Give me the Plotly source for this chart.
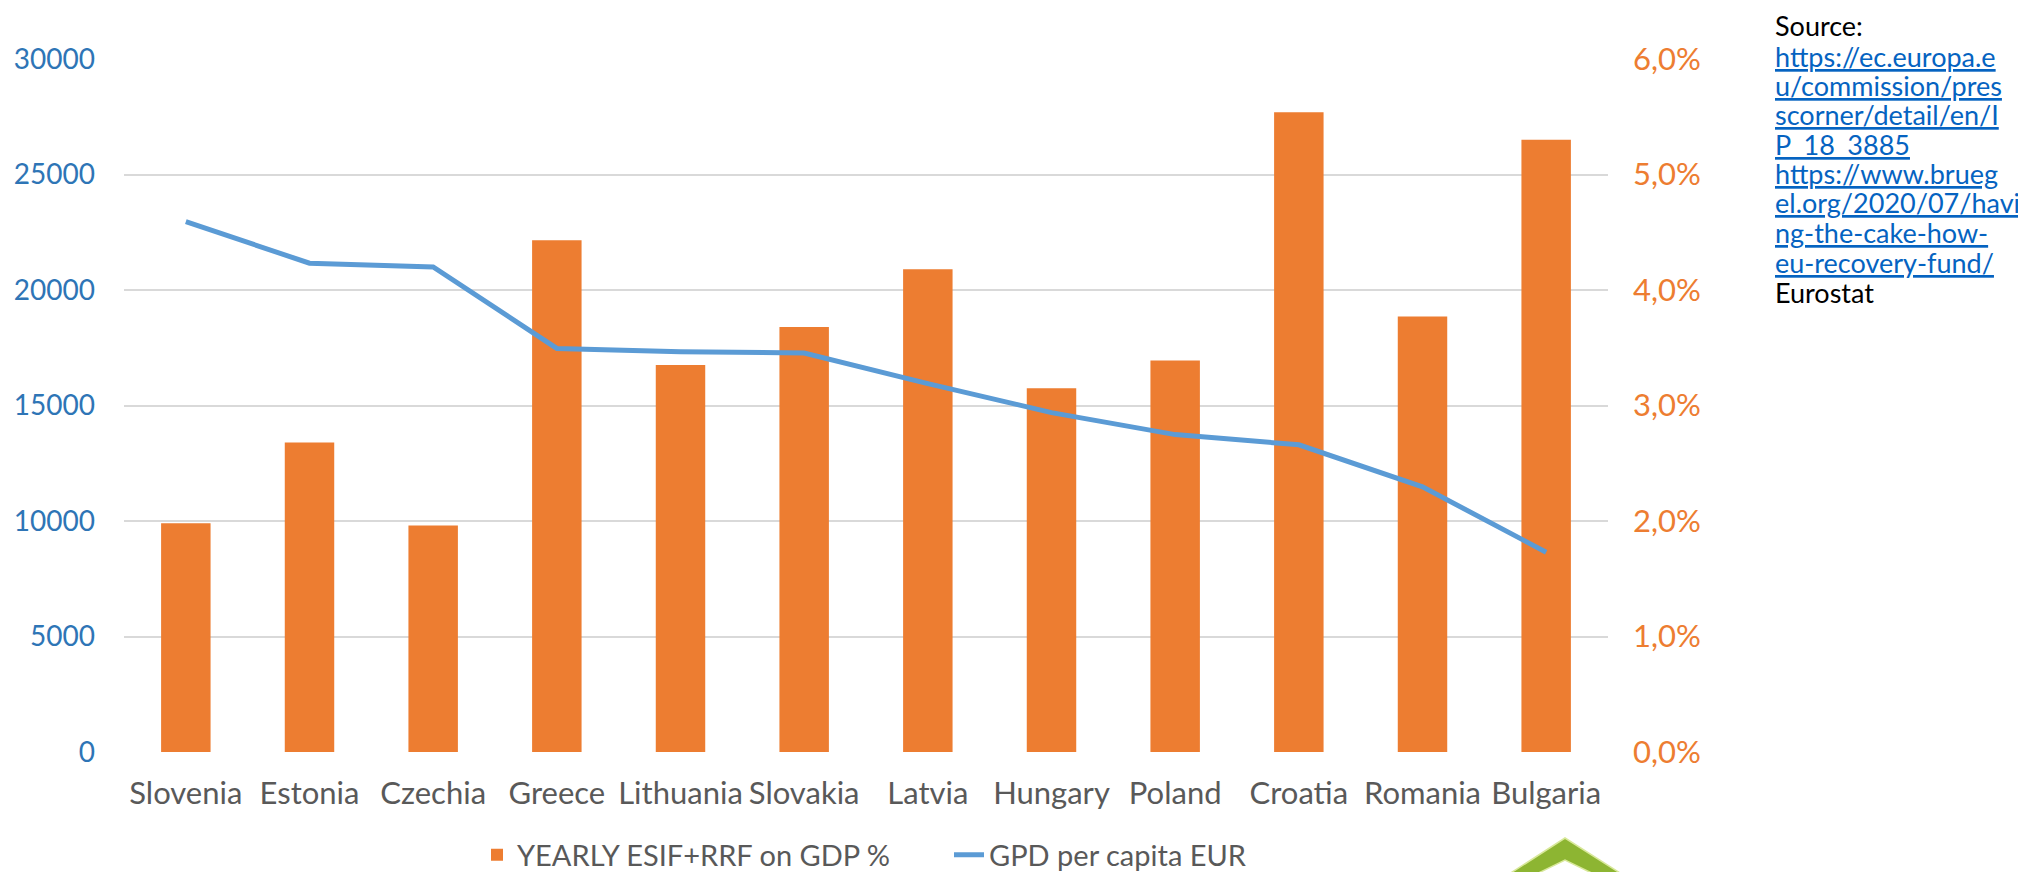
import plotly.graph_objects as go

# ---- data ----
countries = ["Slovenia", "Estonia", "Czechia", "Greece", "Lithuania", "Slovakia",
             "Latvia", "Hungary", "Poland", "Croatia", "Romania", "Bulgaria"]
esif_rrf_pct = [1.98, 2.68, 1.96, 4.43, 3.35, 3.68, 4.18, 3.15, 3.39, 5.54, 3.77, 5.30]
gdp_per_capita = [22960, 21160, 21000, 17470, 17330, 17270, 15950, 14690, 13740, 13300, 11480, 8650]

pct_tickvals = [0, 1, 2, 3, 4, 5, 6]
pct_ticktext = ["0,0%", "1,0%", "2,0%", "3,0%", "4,0%", "5,0%", "6,0%"]
gdp_tickvals = [0, 5000, 10000, 15000, 20000, 25000, 30000]
gdp_ticktext = ["0", "5000", "10000", "15000", "20000", "25000", "30000"]

source_lines = [
    ("Source:", False),
    ("https://ec.europa.e", True),
    ("u/commission/pres", True),
    ("scorner/detail/en/I", True),
    ("P_18_3885", True),
    ("https://www.brueg", True),
    ("el.org/2020/07/havi", True),
    ("ng-the-cake-how-", True),
    ("eu-recovery-fund/", True),
    ("Eurostat", False),
]
source_line_y = [26, 56, 85, 114, 144, 173, 203, 232, 262, 292]

# ---- layout geometry (page body adds an 8px offset) ----
OFF = 8
W, H = 2026, 872
L, T = 124 - OFF, 59 - OFF
R = W - (1608 - OFF)
B = H - (752 - OFF)
PW, PH = W - L - R, H - T - B

ORANGE = "#ED7D31"
BLUE = "#5B9BD5"
BLUE_TXT = "#2E75B6"
GREY_TXT = "#595959"
GRID = "#D9D9D9"
FONT = "Lato"


def px_x(sx):
    return (sx - OFF - L) / PW


def px_y(sy):
    return ((H - B) - (sy - OFF)) / PH


fig = go.Figure()
fig.add_trace(go.Bar(
    x=countries, y=esif_rrf_pct, name="YEARLY ESIF+RRF on GDP %",
    marker=dict(color=ORANGE, line=dict(width=0)), yaxis="y",
))
fig.add_trace(go.Scatter(
    x=countries, y=gdp_per_capita, name="GPD per capita EUR", mode="lines",
    line=dict(color=BLUE, width=5), yaxis="y2",
))

annotations = []
for (txt, link), yy in zip(source_lines, source_line_y):
    annotations.append(dict(
        text=f"<u>{txt}</u>" if link else txt,
        xref="paper", yref="paper", x=px_x(1773), y=px_y(yy),
        xanchor="left", yanchor="middle", showarrow=False,
        font=dict(family=FONT, size=27, color="#0563C1" if link else "#000000"),
    ))

# partial logo at bottom right (decoration)
chev = [(1500, 880), (1565, 838), (1631, 880), (1606, 880), (1565, 860), (1524, 880)]
path = "M " + " L ".join(f"{px_x(a)},{px_y(b)}" for a, b in chev) + " Z"
shapes = [dict(type="path", path=path, xref="paper", yref="paper",
               fillcolor="#8DB532", line=dict(color="#D8E89A", width=1.5), layer="above")]

fig.update_layout(
    width=W, height=H,
    margin=dict(l=L, r=R, t=T, b=B, autoexpand=False),
    paper_bgcolor="white", plot_bgcolor="white",
    font=dict(family=FONT, color=GREY_TXT),
    bargap=0.6,
    showlegend=True,
    legend=dict(orientation="h", x=px_x(477), xanchor="left", y=px_y(855), yanchor="middle",
                font=dict(family=FONT, size=29, color=GREY_TXT), itemwidth=30,
                entrywidth=427, entrywidthmode="pixels",
                traceorder="normal", bgcolor="rgba(0,0,0,0)"),
    xaxis=dict(type="category", showgrid=False, showline=False, zeroline=False,
               ticks="", tickfont=dict(family=FONT, size=31, color=GREY_TXT),
               ticklabelstandoff=20),
    yaxis=dict(side="right", range=[0, 6], tickvals=pct_tickvals, ticktext=pct_ticktext,
               showgrid=True, gridcolor=GRID, gridwidth=1.5, zeroline=False, showline=False,
               ticks="", tickfont=dict(family=FONT, size=31, color=ORANGE),
               ticklabelstandoff=24),
    yaxis2=dict(side="left", overlaying="y", range=[0, 30000], tickvals=gdp_tickvals,
                ticktext=gdp_ticktext, showgrid=False, zeroline=False, showline=False,
                ticks="", tickfont=dict(family=FONT, size=28, color=BLUE_TXT),
                ticklabelstandoff=28),
    annotations=annotations,
    shapes=shapes,
)

fig.write_html("out.html")
